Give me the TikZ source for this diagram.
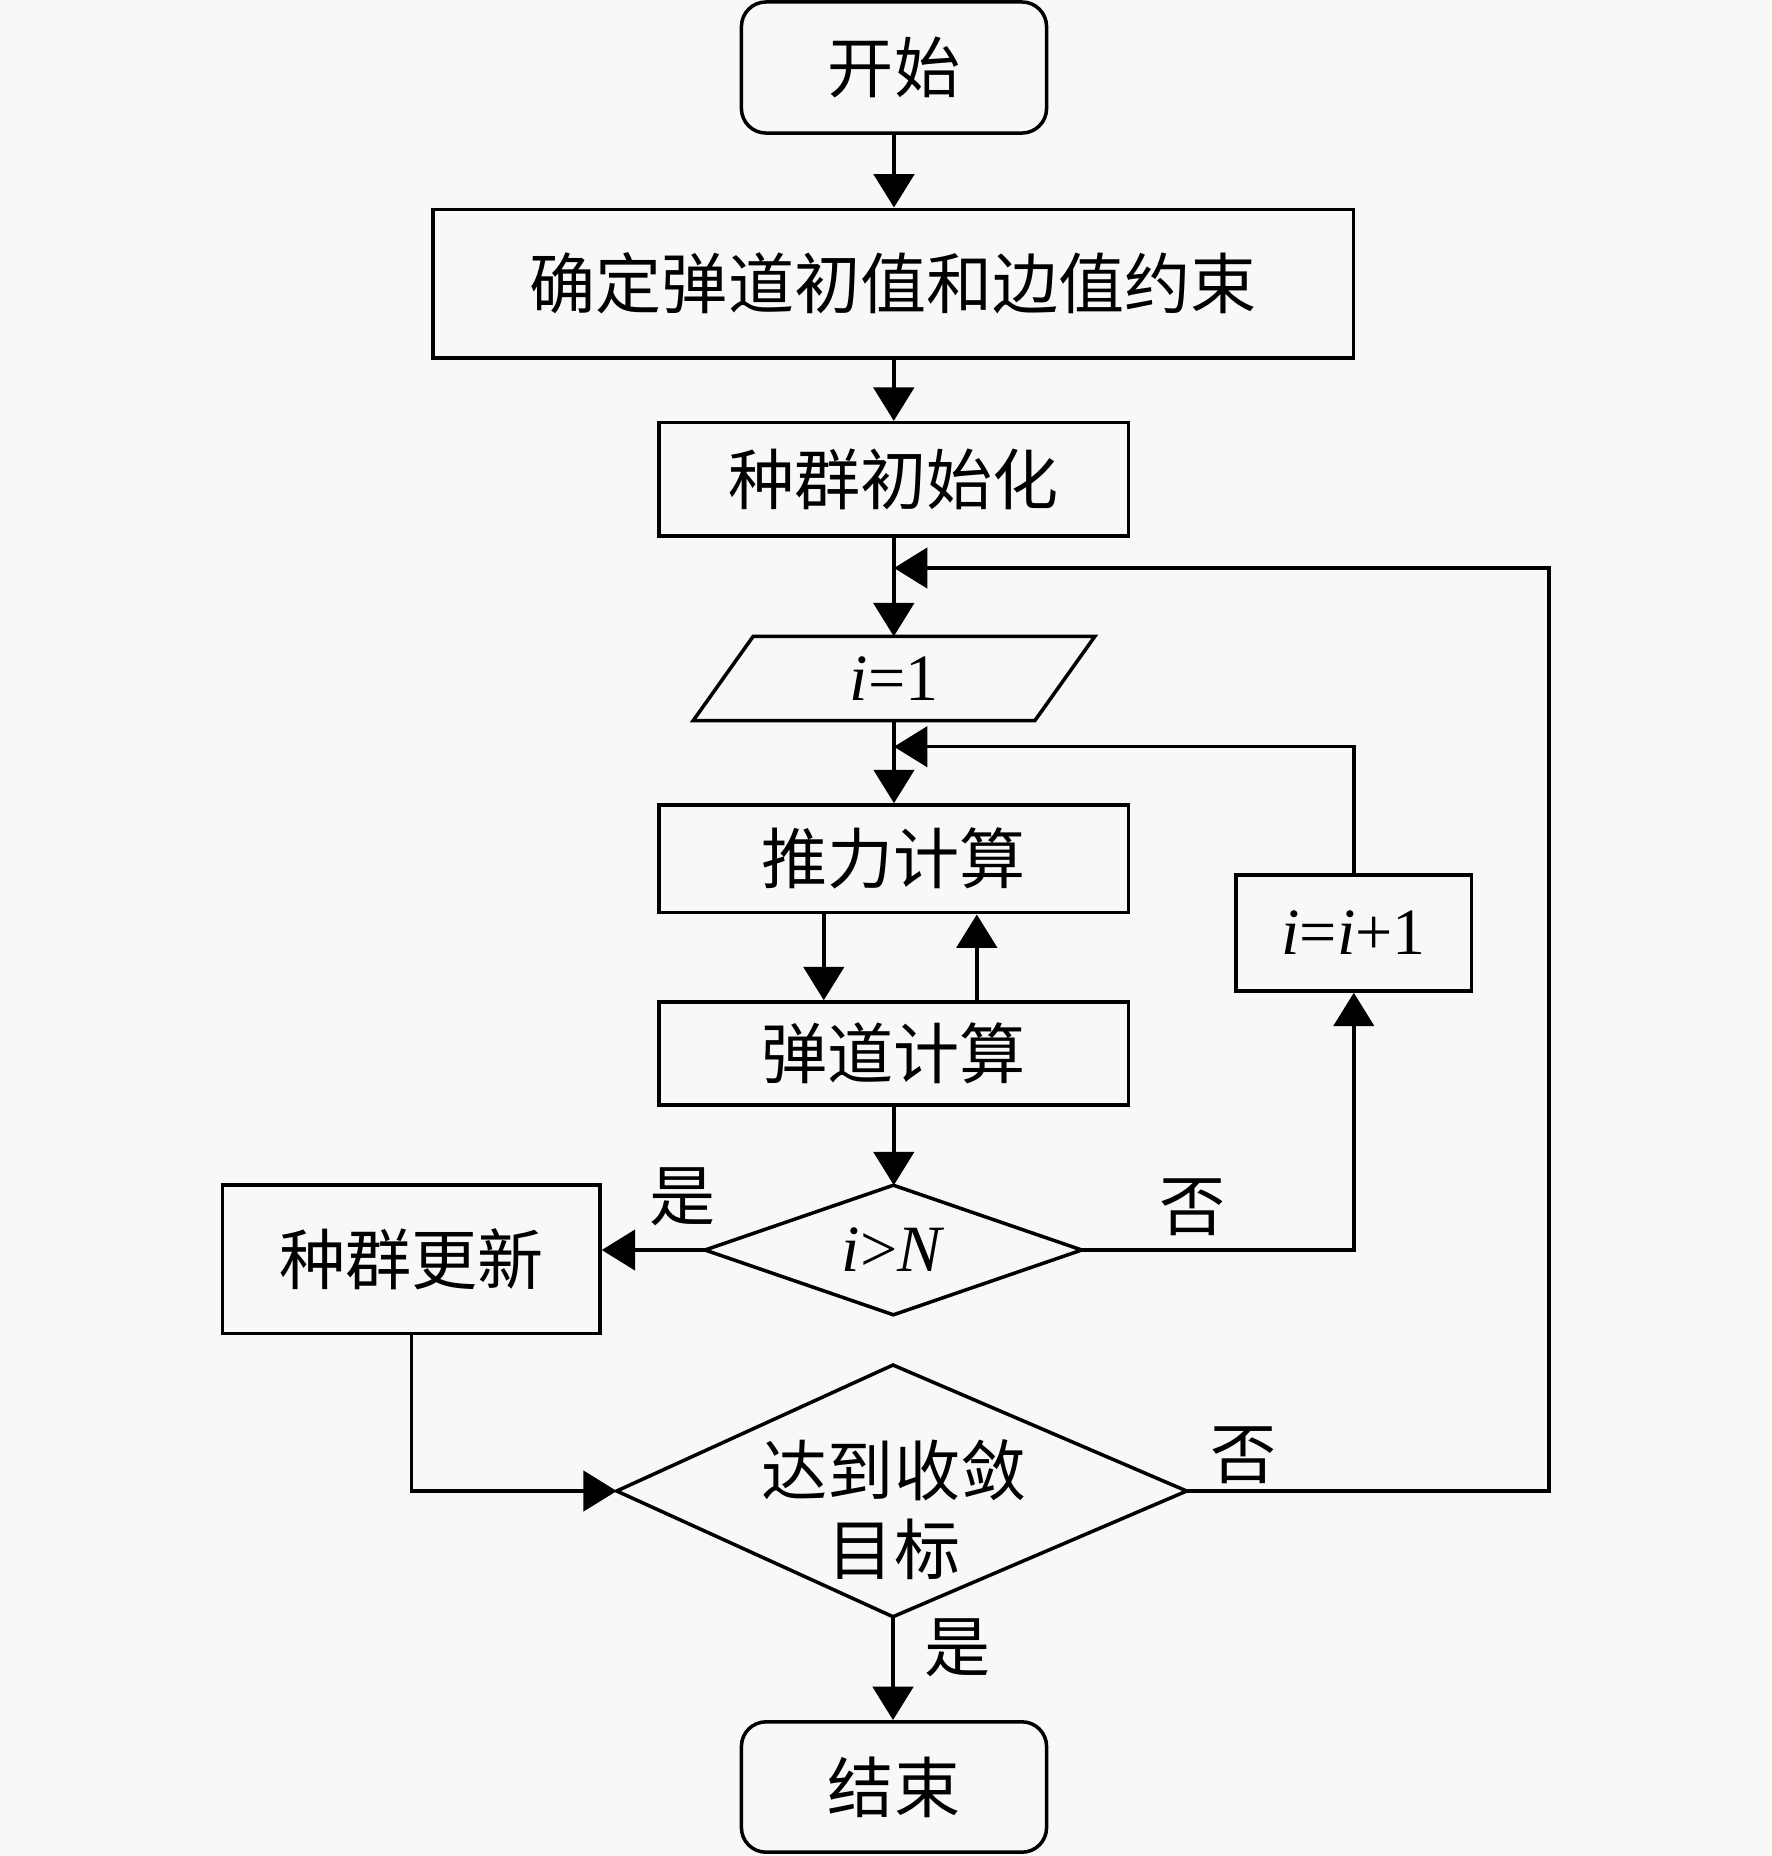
\documentclass[tikz,border=0pt]{standalone}
\usepackage{fontspec}
\setmainfont{Liberation Serif}
\newfontfamily\cjk{Noto Sans CJK SC}
\usetikzlibrary{arrows.meta,calc}
\definecolor{bgc}{RGB}{248,248,248}
\newcommand\cnfont{\fontsize{18.8pt}{22.5pt}\selectfont\cjk}
\newcommand\lafont{\fontsize{18.8pt}{22.5pt}\selectfont}
\begin{document}
\begin{tikzpicture}[x=0.01cm,y=-0.01cm,line width=1pt,
  box/.style={draw,rectangle,inner sep=0pt,font=\cnfont},
  term/.style={box,rounded corners=7pt},
  plain/.style={rectangle,inner sep=0pt,font=\lafont},
  lbl/.style={inner sep=0pt,font=\cnfont},
  arr/.style={-{Triangle[length=9.5pt,width=11.5pt]}}]
\path[use as bounding box,fill=bgc] (0,0) rectangle (1772,1856);

\node[term,minimum width=3.05cm,minimum height=1.31cm] (start) at (894,67.5) {开始};
\node[box,minimum width=9.2cm,minimum height=1.484cm] (init) at (893.3,283.5) {确定弹道初值和边值约束};
\node[box,minimum width=4.69cm,minimum height=1.133cm] (pop) at (893.8,479.3) {种群初始化};
\node[plain,minimum width=3.38cm,minimum height=0.807cm] (i1) at (894,678.5) {\textit{i}=1};
\node[box,minimum width=4.69cm,minimum height=1.077cm] (thrust) at (893.8,858.8) {推力计算};
\node[box,minimum width=4.69cm,minimum height=1.03cm] (traj) at (893.8,1053.5) {弹道计算};
\node[plain,minimum width=3.73cm,minimum height=1.26cm] (dN) at (893.4,1250) {\textit{i}>\textit{N}};
\node[box,minimum width=3.773cm,minimum height=1.483cm] (upd) at (411.3,1259.2) {种群更新};
\node[box,font=\lafont,minimum width=2.357cm,minimum height=1.16cm] (inc) at (1353.8,933) {\textit{i}=\textit{i}+1};
\node[plain,font=\cnfont,align=center] (conv) at (894,1510) {达到收敛\\目标};
\node[term,minimum width=3.05cm,minimum height=1.303cm] (end) at (894,1787) {结束};

% shapes drawn around text nodes
\draw ($(i1.north west)+(30,0)$) -- ($(i1.north east)+(30,0)$) -- ($(i1.south east)+(-30,0)$) -- ($(i1.south west)+(-30,0)$) -- cycle;
\draw (dN.north) -- (dN.east) -- (dN.south) -- (dN.west) -- cycle;
\coordinate (cT) at (893,1365);
\coordinate (cR) at (1186.7,1491);
\coordinate (cB) at (893,1616.7);
\coordinate (cL) at (616.7,1491);
\draw (cT) -- (cR) -- (cB) -- (cL) -- cycle;

% junction points
\coordinate (j1) at (894,568);
\coordinate (r1) at (1549,568);
\coordinate (j2) at (894,746.7);

% connectors
\draw[arr] (start.south) -- (start.south |- init.north);
\draw[arr] (init.south -| pop.north) -- (pop.north);
\draw[arr] (pop.south) -- (pop.south |- i1.north);
\draw[arr] (i1.south) -- (i1.south |- thrust.north);
\draw[arr] ($(thrust.south)+(-70,0)$) -- ($(traj.north)+(-70,0)$);
\draw[arr] ($(traj.north)+(83,0)$) -- ($(thrust.south)+(83,0)$);
\draw[arr] (traj.south) -- (traj.south |- dN.north);
\draw[arr] (dN.west) -- (dN.west -| upd.east);
\draw[arr] (dN.east) -| (inc.south);
\draw[arr] (inc.north) |- (j2);
\draw[arr] (upd.south) |- (cL);
\draw[arr] (cR) -| (r1) -- (j1);
\draw[arr] (cB) -- (cB |- end.north);

% labels
\node[lbl] (yes1) at (683,1197) {是};
\node[lbl] (no1) at (1193,1207) {否};
\node[lbl] (no2) at (1244,1455) {否};
\node[lbl] (yes2) at (958,1648) {是};
\end{tikzpicture}
\end{document}
